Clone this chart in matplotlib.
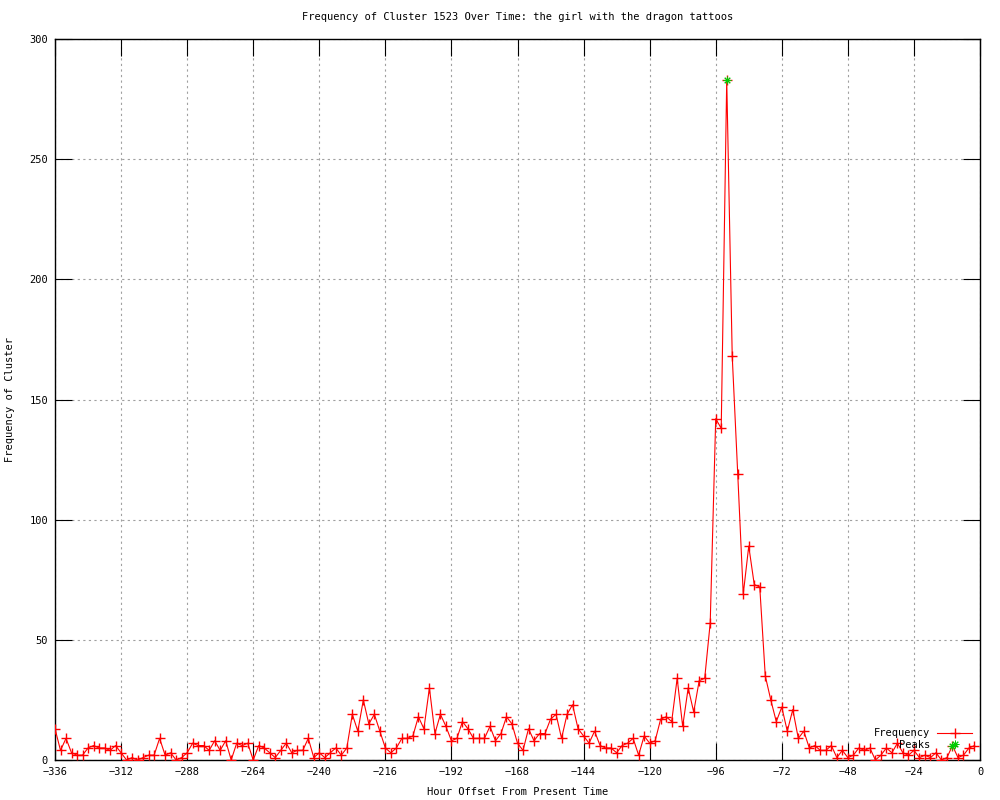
import matplotlib
matplotlib.use("Agg")
import matplotlib.pyplot as plt
import numpy as np

# ---- data ----
hours = list(range(-336, 0, 2))
frequency = [
    13, 4, 9, 3, 2, 2, 5, 6, 5, 5, 4, 6,
    3, 0, 1, 0, 1, 2, 2, 9, 2, 3, 0, 1,
    3, 7, 6, 6, 4, 8, 4, 8, 0, 7, 6, 7,
    0, 6, 5, 3, 1, 4, 7, 3, 4, 4, 9, 1,
    3, 1, 3, 5, 2, 5, 19, 12, 25, 15, 19, 12,
    5, 3, 5, 9, 9, 10, 18, 13, 30, 11, 19, 14,
    8, 9, 16, 13, 9, 9, 9, 14, 8, 11, 18, 15,
    7, 4, 13, 8, 11, 11, 17, 19, 9, 19, 23, 13,
    10, 7, 12, 6, 5, 5, 3, 6, 7, 9, 2, 10,
    7, 8, 17, 18, 16, 34, 14, 30, 20, 33, 34, 57,
    142, 138, 283, 168, 119, 69, 89, 73, 72, 35, 25, 16,
    22, 12, 21, 9, 12, 5, 6, 4, 4, 6, 1, 4,
    1, 2, 5, 4, 5, 0, 2, 5, 3, 7, 3, 2,
    4, 1, 2, 1, 3, 0, 1, 6, 1, 2, 5, 6,
]
peak_hours = [-92, -10]
peak_values = [283, 6]

x_ticks = list(range(-336, 1, 24))
y_ticks = list(range(0, 301, 50))

title = "Frequency of Cluster 1523 Over Time: the girl with the dragon tattoos"
xlabel = "Hour Offset From Present Time"
ylabel = "Frequency of Cluster"

# ---- style ----
plt.rcParams['font.family'] = ['DejaVu Sans Mono']
fs = 7.5

fig = plt.figure(figsize=(10, 8), dpi=100)
ax = fig.add_axes([0.055, 0.05, 0.925, 0.90125])

ax.plot(hours, frequency, color='#ff0000', lw=0.8, marker='+', markersize=6.5,
        markeredgewidth=1.0, label='Frequency', zorder=3)
ax.plot(peak_hours, peak_values, linestyle='none', color='#00cc00',
        marker=(8, 2, 0), markersize=5.5, markeredgewidth=0.7, label='Peaks', zorder=4)

ax.set_xlim(-336, 0)
ax.set_ylim(0, 300)
ax.set_xticks(x_ticks)
ax.set_yticks(y_ticks)
ax.tick_params(axis='both', which='major', direction='in', length=12, width=0.8,
               top=True, right=True, labelsize=fs, pad=5, colors='black')
ax.grid(True, color='#a0a0a0', linestyle=(0, (2, 3)), linewidth=0.8)
for s in ax.spines.values():
    s.set_linewidth(1.0)
    s.set_color('black')

ax.set_title(title, fontsize=fs, pad=14)
ax.set_xlabel(xlabel, fontsize=fs, labelpad=7)
ax.set_ylabel(ylabel, fontsize=fs, labelpad=10)

leg = ax.legend(loc='lower right', bbox_to_anchor=(0.999, 0.004), frameon=False,
                markerfirst=False, fontsize=fs, handlelength=3.3,
                handletextpad=0.7, labelspacing=0.15, borderaxespad=0.3)

fig.savefig('out.png', dpi=100)
